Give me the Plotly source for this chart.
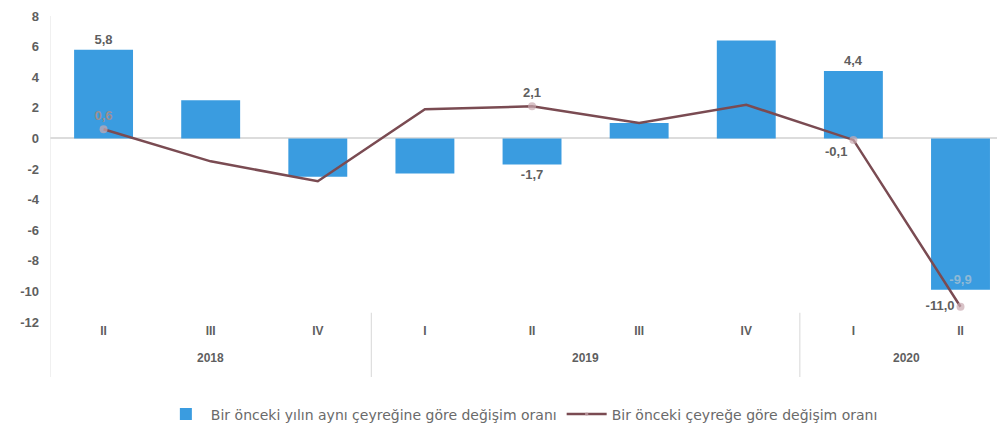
import plotly.graph_objects as go

years = ["2018", "2018", "2018", "2019", "2019", "2019", "2019", "2020", "2020"]
quarters = ["II", "III", "IV", "I", "II", "III", "IV", "I", "II"]
yoy = [5.8, 2.5, -2.5, -2.3, -1.7, 1.0, 6.4, 4.4, -9.9]
qoq = [0.6, -1.5, -2.8, 1.9, 2.1, 1.0, 2.2, -0.1, -11.0]
yoy_labels = ["5,8", "", "", "", "-1,7", "", "", "4,4", "-9,9"]
qoq_labels = ["0,6", "", "", "", "2,1", "", "", "-0,1", "-11,0"]
yticks = [8, 6, 4, 2, 0, -2, -4, -6, -8, -10, -12]

name_bar = "Bir önceki yılın aynı çeyreğine göre değişim oranı"
name_line = "Bir önceki çeyreğe göre değişim oranı"

xs = list(range(len(quarters)))
grey = "#5f5f5f"
fig = go.Figure()
fig.add_trace(go.Bar(
    x=xs, y=yoy, name=name_bar,
    marker=dict(color="#3a9ce0", line=dict(width=0)),
    text=yoy_labels,
    textposition=["outside", "none", "none", "none", "outside", "none", "none", "outside", "inside"],
    insidetextanchor="end",
    textfont=dict(family="Liberation Sans", size=13,
                  color=[grey] * 8 + ["#8fb9d6"], weight="bold"),
    cliponaxis=False, hoverinfo="skip",
))
fig.add_trace(go.Scatter(
    x=xs, y=qoq, name=name_line, mode="lines+markers+text",
    line=dict(color="#7a4b52", width=2.5),
    marker=dict(size=[8, 0, 0, 0, 8, 0, 0, 8, 8], color="#c9a9b0", line=dict(width=0)),
    text=qoq_labels,
    textposition=["top center", "top center", "top center", "top center", "top center",
                  "top center", "top center", "bottom left", "middle left"],
    textfont=dict(family="Liberation Sans", size=13,
                  color=["#9a8f90"] + [grey] * 8, weight="bold"),
    cliponaxis=False, hoverinfo="skip",
))

# year group labels and dividers
groups = []
for i, yv in enumerate(years):
    if not groups or groups[-1][0] != yv:
        groups.append([yv, i, i])
    else:
        groups[-1][2] = i
annotations = []
shapes = []
for yv, a, b in groups:
    annotations.append(dict(x=(a + b) / 2, y=0, xref="x", yref="paper", text=yv,
                            showarrow=False, yanchor="top", yshift=-27,
                            font=dict(family="Liberation Sans", size=12, color=grey, weight="bold")))
for yv, a, b in groups[1:]:
    shapes.append(dict(type="line", xref="x", yref="paper", x0=a - 0.5, x1=a - 0.5,
                       y0=0.03, y1=-0.18, line=dict(color="#dedede", width=1.2)))
shapes.append(dict(type="line", xref="x", yref="paper", x0=-0.5, x1=-0.5,
                   y0=1.0, y1=-0.18, line=dict(color="#e6e6e6", width=1.2)))

fig.update_layout(
    width=1005, height=431,
    margin=dict(l=42, r=0, t=8, b=117),
    plot_bgcolor="white", paper_bgcolor="white",
    separators=",.",
    bargap=0.45,
    showlegend=True,
    legend=dict(orientation="h", x=0.49, xanchor="center", y=-0.25, yanchor="top",
                font=dict(family="DejaVu Sans", size=14, color="#6a6a6a"),
                tracegroupgap=0, itemwidth=40),
    font=dict(family="Liberation Sans", color=grey),
    annotations=annotations, shapes=shapes,
)
fig.update_yaxes(
    range=[-12, 8], tickvals=yticks, ticktext=[str(v) for v in yticks],
    showgrid=False, zeroline=True, zerolinecolor="#dcdcdc", zerolinewidth=1.5,
    showline=False, ticklabelstandoff=10,
    tickfont=dict(family="Liberation Sans", size=13, color=grey, weight="bold"),
)
fig.update_xaxes(
    range=[-0.5, 8.49], showgrid=False, showline=False, zeroline=False,
    tickvals=xs, ticktext=quarters, ticks="",
    tickfont=dict(family="Liberation Sans", size=12, color=grey, weight="bold"),
)

fig.write_html("out.html")
